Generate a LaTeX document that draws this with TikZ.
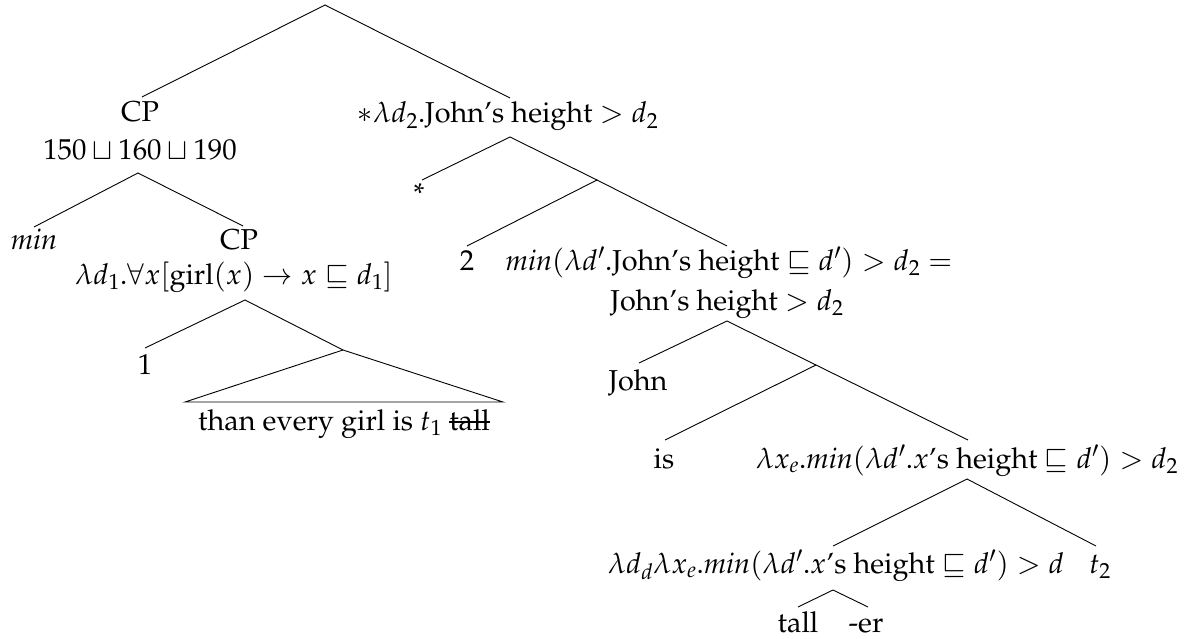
\documentclass[tikz,border=0pt]{standalone}
\usepackage[T1]{fontenc}
\usepackage{mathpazo}
\usepackage{amssymb}
\newcommand{\mystrike}[1]{\setbox0\hbox{#1}\rlap{#1}\rule[0.55ex]{\wd0}{1.1pt}}
\tikzset{
  lbl/.style={inner sep=0pt, anchor=base, font=\fontsize{28.8}{35}\selectfont},
  edge/.style={line width=0.9pt, black},
}
\begin{document}
\begin{tikzpicture}[x=1pt,y=-1pt]
\useasboundingbox (0,0) rectangle (1193,639);
\fill[white] (0,0) rectangle (1193,639);

% ---- text nodes ----
\node[lbl] (cp1) at (140,122) {CP};
\node[lbl] (cp1v) at (140,160) {$150 \sqcup 160 \sqcup 190$};
\node[lbl] (min) at (34,249) {\textit{min}};
\node[lbl] (cp2) at (239,249) {CP};
\node[lbl] (cp2v) at (234,284) {$\lambda d_1.\forall x[\mathrm{girl}(x) \rightarrow x \sqsubseteq d_1]$};
\node[lbl] (one) at (145,374) {1};
\node[lbl] (than) at (344,430) {than every girl is $t_1$ \mystrike{tall}};

\node[lbl] (star2) at (508,123) {$*\lambda d_2.$John's height $> d_2$};
\node[lbl] (star) at (419,204) {*};
\node[lbl] (two) at (467,270) {2};
\node[lbl] (minj) at (729,270) {$\mathit{min}(\lambda d'.$John's height $\sqsubseteq d') > d_2 =$};
\node[lbl] (jh) at (727,310) {John's height $> d_2$};
\node[lbl] (john) at (638,390) {John};
\node[lbl] (is) at (664,468) {is};
\node[lbl] (lx) at (967,468) {$\lambda x_e.\mathit{min}(\lambda d'.x$'s height $\sqsubseteq d') > d_2$};
\node[lbl] (ld) at (836,573) {$\lambda d_d\lambda x_e.\mathit{min}(\lambda d'.x$'s height $\sqsubseteq d') > d$};
\node[lbl] (t2) at (1100,573) {$t_2$};
\node[lbl] (tall) at (798,632) {tall};
\node[lbl] (er) at (866,632) {-er};

% ---- coordinates for branching points and line ends ----
\coordinate (root) at (325,5);
\coordinate (rootL) at (142,97);
\coordinate (rootR) at (510,98);

\coordinate (a1) at (138,173);
\coordinate (a1L) at (34,227);
\coordinate (a1R) at (243,226);

\coordinate (a2) at (245,300);
\coordinate (a2L) at (145,348);
\coordinate (m2) at (343,350);
\coordinate (triL) at (185,402);
\coordinate (triR) at (503,402);

\coordinate (b1) at (510,137);
\coordinate (b1L) at (422,180);
\coordinate (mb) at (597,180);
\coordinate (mbL) at (467,246);
\coordinate (mbR) at (727,246);

\coordinate (c1) at (727,321);
\coordinate (c1L) at (639,363);
\coordinate (mc) at (816,365);
\coordinate (mcL) at (665,440);
\coordinate (mcR) at (968,440);

\coordinate (d1) at (967,479);
\coordinate (d1L) at (833,546);
\coordinate (d1R) at (1096,546);

\coordinate (e1) at (833,590);
\coordinate (e1L) at (798,607);
\coordinate (e1R) at (868,607);

% ---- edges ----
\draw[edge] (rootL) -- (root) -- (rootR);
\draw[edge] (a1L) -- (a1) -- (a1R);
\draw[edge] (a2L) -- (a2) -- (m2);
\draw[edge] (m2) -- (triL) -- (triR) -- cycle;
\draw[edge] (b1L) -- (b1) -- (mb);
\draw[edge] (mbL) -- (mb) -- (mbR);
\draw[edge] (c1L) -- (c1) -- (mc);
\draw[edge] (mcL) -- (mc) -- (mcR);
\draw[edge] (d1L) -- (d1) -- (d1R);
\draw[edge] (e1L) -- (e1) -- (e1R);
\end{tikzpicture}
\end{document}
